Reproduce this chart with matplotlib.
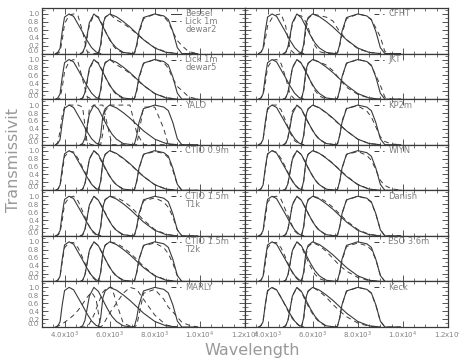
import matplotlib
matplotlib.use('Agg')
import matplotlib.pyplot as plt
from matplotlib.ticker import MultipleLocator

# wavelength grids (Angstrom) for the four filters
wl_B = [3600, 3700, 3800, 3900, 4000, 4200, 4400, 4600, 4800, 5000, 5200, 5400, 5600]
wl_V = [4700, 4800, 4900, 5000, 5100, 5300, 5500, 5700, 5900, 6100, 6300, 6600, 7000]
wl_R = [5500, 5600, 5700, 5800, 6000, 6300, 6600, 6900, 7200, 7500, 8000, 8500, 9000]
wl_I = [7000, 7100, 7200, 7300, 7500, 8000, 8400, 8600, 8800, 9000, 9200, 9500, 9900]
grids = [wl_B, wl_V, wl_R, wl_I]

# Bessel (solid)
bessel = [
    [0, .03, .13, .57, .92, 1.0, .94, .74, .54, .33, .15, .04, 0],
    [0, .03, .16, .46, .78, 1.0, .90, .68, .46, .27, .14, .03, 0],
    [0, .23, .74, .91, 1.0, .93, .81, .67, .51, .35, .14, .03, 0],
    [0, .02, .23, .56, .91, 1.0, .95, .86, .56, .15, 0, 0, 0],
]

# instrument filters (dashed)
lick2 = [
    [0, 0, .05, .35, .75, .97, 1.0, .95, .55, .05, 0, 0, 0],
    [0, .02, .12, .40, .72, .97, .93, .70, .45, .24, .10, .02, 0],
    [0, .15, .65, .92, 1.0, .85, .76, .64, .50, .35, .15, .04, 0],
    [0, .01, .18, .50, .88, 1.0, .93, .80, .55, .33, .20, .05, 0],
]
lick5 = [
    [0, 0, .03, .30, .70, .95, 1.0, .93, .50, .06, 0, 0, 0],
    [0, .02, .14, .42, .75, .98, .92, .69, .44, .25, .11, .02, 0],
    [0, .18, .68, .93, 1.0, .87, .77, .65, .50, .34, .14, .04, 0],
    [0, .02, .20, .52, .90, 1.0, .92, .78, .52, .32, .22, .06, 0],
]
yalo = [
    [0, .05, .35, .75, .95, 1.0, 1.0, 1.0, .95, .05, 0, 0, 0],
    [0, 0, 0, .35, .92, 1.0, 1.0, 1.0, .50, 0, 0, 0, 0],
    [0, 0, .30, .85, 1.0, 1.0, 1.0, 1.0, .30, 0, 0, 0, 0],
    [0, 0, 0, .30, .95, .95, .40, 0, 0, 0, 0, 0, 0],
]
ctio09 = [
    [0, .02, .10, .45, .85, .98, .97, .80, .58, .35, .15, .04, 0],
    [0, .02, .15, .45, .80, 1.0, .88, .65, .44, .26, .13, .03, 0],
    [0, .20, .70, .90, 1.0, .92, .80, .66, .50, .35, .14, .03, 0],
    [0, .02, .22, .55, .90, .98, .93, .82, .50, .14, 0, 0, 0],
]
ctio_t1k = [
    [0, .02, .08, .40, .80, .97, 1.0, .88, .62, .35, .12, .02, 0],
    [0, .02, .14, .44, .78, 1.0, .90, .70, .47, .27, .12, .03, 0],
    [0, .20, .72, .92, 1.0, .97, .88, .75, .58, .40, .16, .04, 0],
    [0, .02, .20, .52, .88, .96, .85, .72, .48, .15, 0, 0, 0],
]
ctio_t2k = [
    [0, .03, .12, .50, .85, .98, .98, .85, .60, .33, .12, .02, 0],
    [0, .02, .15, .45, .80, 1.0, .90, .68, .45, .26, .12, .03, 0],
    [0, .22, .72, .92, 1.0, .96, .86, .72, .56, .38, .15, .04, 0],
    [0, .02, .22, .55, .90, .97, .85, .70, .46, .14, 0, 0, 0],
]
marly = [
    [0, .02, .05, .08, .12, .20, .30, .42, .58, .75, .88, .70, 0],
    [0, 0, 0, .02, .08, .30, .60, .88, 1.0, 1.0, .60, .10, 0],
    [0, 0, .05, .15, .35, .60, .85, 1.0, .95, .70, .30, .05, 0],
    [0, 0, .05, .30, .85, .95, .70, .50, .38, .25, .12, .05, 0],
]
cfht = [
    [0, .03, .10, .35, .70, .90, .98, 1.0, .70, .10, 0, 0, 0],
    [0, .02, .12, .40, .75, .98, .95, .80, .50, .20, .05, 0, 0],
    [0, .15, .60, .88, 1.0, .96, .92, .82, .55, .35, .12, .03, 0],
    [0, .02, .20, .50, .88, 1.0, .95, .85, .65, .42, .05, 0, 0],
]
jkt = [
    [0, .02, .10, .40, .80, .98, 1.0, .90, .55, .12, 0, 0, 0],
    [0, .03, .15, .45, .80, 1.0, .92, .72, .45, .22, .08, 0, 0],
    [0, .20, .65, .90, 1.0, .94, .86, .72, .50, .30, .12, .03, 0],
    [0, .02, .22, .55, .90, 1.0, .95, .84, .60, .35, .05, 0, 0],
]
kp2m = [
    [0, .02, .12, .50, .88, 1.0, 1.0, .88, .60, .30, .10, .02, 0],
    [0, .03, .18, .50, .85, 1.0, .90, .66, .45, .26, .12, .03, 0],
    [0, .20, .70, .90, 1.0, .93, .80, .66, .50, .35, .14, .03, 0],
    [0, .02, .25, .60, .92, .98, .85, .70, .45, .20, .08, .02, 0],
]
wiyn = [
    [0, .03, .13, .52, .90, 1.0, .96, .80, .58, .33, .13, .03, 0],
    [0, .03, .17, .48, .82, 1.0, .90, .67, .45, .26, .13, .03, 0],
    [0, .21, .72, .91, 1.0, .94, .82, .68, .52, .36, .15, .03, 0],
    [0, .02, .22, .55, .90, .98, .88, .76, .52, .25, .12, .04, 0],
]
danish = [
    [0, .02, .10, .45, .85, .98, 1.0, .92, .65, .38, .12, .02, 0],
    [0, .03, .16, .46, .80, 1.0, .90, .68, .45, .26, .12, .03, 0],
    [0, .20, .70, .92, 1.0, .96, .86, .72, .55, .38, .16, .04, 0],
    [0, .02, .23, .56, .90, 1.0, .94, .84, .55, .16, 0, 0, 0],
]
eso36 = [
    [0, .02, .10, .45, .85, .98, .98, .85, .60, .33, .12, .02, 0],
    [0, .02, .14, .44, .78, 1.0, .88, .62, .38, .18, .07, .01, 0],
    [0, .18, .65, .88, .98, .90, .76, .58, .40, .26, .10, .02, 0],
    [0, .02, .20, .52, .88, .97, .90, .80, .55, .16, 0, 0, 0],
]
keck = [
    [0, .03, .14, .56, .90, .99, .93, .75, .52, .30, .13, .03, 0],
    [0, .03, .15, .45, .78, 1.0, .88, .64, .42, .24, .12, .02, 0],
    [0, .20, .72, .90, 1.0, .90, .75, .57, .40, .26, .10, .02, 0],
    [0, .02, .22, .56, .90, 1.0, .95, .85, .55, .15, 0, 0, 0],
]

left_names = ["Lick 1m\ndewar2", "Lick 1m\ndewar5", "YALO", "CTIO 0.9m",
              "CTIO 1.5m\nT1k", "CTIO 1.5m\nT2k", "MARLY"]
left_data = [lick2, lick5, yalo, ctio09, ctio_t1k, ctio_t2k, marly]
right_names = ["CFHT", "JKT", "KP2m", "WIYN", "Danish", "ESO 3.6m", "Keck"]
right_data = [cfht, jkt, kp2m, wiyn, danish, eso36, keck]

xticks = [4000, 6000, 8000, 10000, 12000]
xticklabels = [r'4.0x10$^3$', r'6.0x10$^3$', r'8.0x10$^3$', r'1.0x10$^4$', r'1.2x10$^4$']
yticks = [0.0, 0.2, 0.4, 0.6, 0.8, 1.0]

line_c = '#3a3a3a'
text_c = '#808080'
dash = (0, (5, 4))

W, H = 460, 362
fig = plt.figure(figsize=(W / 100, H / 100), dpi=100)

top, bottom = 8, 327
ph = (bottom - top) / 7
cols = [(42, 203), (245, 203)]

for c, (names, datas) in enumerate([(left_names, left_data), (right_names, right_data)]):
    x0, w = cols[c]
    for r in range(7):
        y0 = H - top - (r + 1) * ph
        ax = fig.add_axes([x0 / W, y0 / H, w / W, ph / H])
        for g, sol, das in zip(grids, bessel, datas[r]):
            ax.plot(g, sol, color=line_c, lw=0.8)
            ax.plot(g, das, color=line_c, lw=0.7, linestyle=dash)
        ax.set_xlim(3000, 12000)
        ax.set_ylim(0, 1.15)
        ax.set_xticks(xticks)
        ax.xaxis.set_minor_locator(MultipleLocator(500))
        ax.set_yticks(yticks)
        ax.yaxis.set_minor_locator(MultipleLocator(0.1))
        ax.tick_params(which='both', direction='in', top=True, right=True,
                       colors=line_c, labelcolor=text_c, labelsize=5, pad=2)
        ax.tick_params(which='major', length=4, width=0.6)
        ax.tick_params(which='minor', length=2, width=0.5)
        for s in ax.spines.values():
            s.set_color(line_c)
            s.set_linewidth(0.9)
        if r == 6:
            ax.set_xticklabels(xticklabels)
        else:
            ax.set_xticklabels([])
        if c == 0:
            ax.set_yticklabels(['%.1f' % v for v in yticks])
            ax.get_yticklabels()[0].set_va('bottom')
        else:
            ax.set_yticklabels([])

        # panel key
        lines = names[r].split('\n')
        ky = 1.0
        if c == 0 and r == 0:
            ax.plot([8700, 9150], [ky, ky], color=line_c, lw=0.7)
            ax.text(9350, ky, 'Bessel', fontsize=6, color=text_c, va='center')
            ky = 0.82
        ax.plot([8700, 9150], [ky, ky], color=line_c, lw=0.7, linestyle=dash)
        for i, t in enumerate(lines):
            ax.text(9350, ky - i * 0.2, t, fontsize=6, color=text_c, va='center')

fig.text(14 / W, 1 - 160 / H, 'Transmissivit', rotation=90, fontsize=11.5,
         color='#999999', ha='center', va='center')
fig.text(252 / W, 1 - 351 / H, 'Wavelength', fontsize=11.5,
         color='#999999', ha='center', va='center')

fig.savefig('out.png', dpi=100)
